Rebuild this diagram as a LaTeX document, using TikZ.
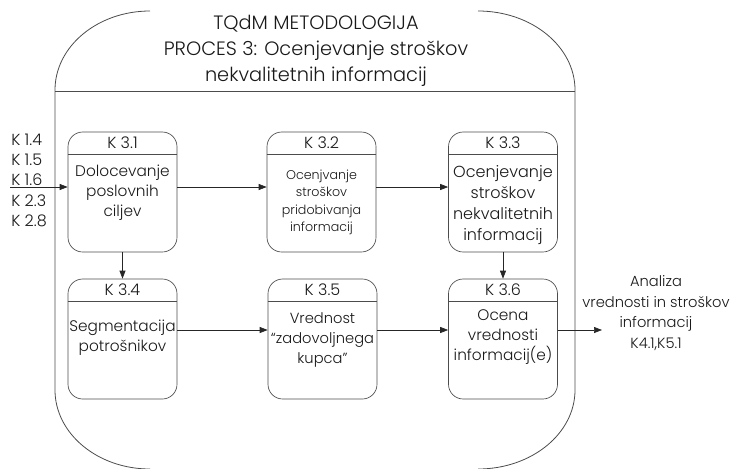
\documentclass[tikz,border=0pt]{standalone}
\usepackage{fontspec}
\setmainfont{Poppins}[UprightFont={* Light}]
\usepackage{xcolor}
\usepackage{tikz}
\usetikzlibrary{positioning,calc,arrows.meta}
\tikzset{
  procbox/.style={draw=black!70, line width=0.5pt, rounded corners=11pt,
    minimum width=81.75pt, minimum height=90pt, inner sep=0pt},
  headtext/.style={text=black!90, inner sep=0pt, font=\fontsize{12}{13}\selectfont},
  bodytext/.style={anchor=north, align=center, inner sep=0pt, text=black!90,
    font=\fontsize{11.5}{15}\selectfont},
  flow/.style={draw=black!85, line width=0.5pt, -{Triangle[length=6pt,width=4.5pt]}},
  outline/.style={draw=black!70, line width=0.6pt}
}

\begin{document}
\begin{tikzpicture}[x=0.75pt,y=-0.75pt]
\useasboundingbox (0,0) rectangle (731,468);
% outer frame
\draw[outline] (150,11) .. controls (97.6,11) and (55,46.4) .. (55,90)
  -- (55,390) .. controls (55,433.6) and (97.6,469) .. (150,469);
\draw[outline] (478,11) .. controls (531.5,11) and (575,46.4) .. (575,90)
  -- (575,390) .. controls (575,433.6) and (531.5,469) .. (478,469);
\draw[outline] (55,91.5) -- (575,91.5);
\node[align=center, text=black!90, font=\fontsize{14.5}{19.5}\selectfont] (title) at (316,50.5)
  {TQdM METODOLOGIJA\\PROCES 3: Ocenjevanje stroškov\\nekvalitetnih informacij};

% boxes
\node[procbox] (k31) at (122.5,192) {};
\node[procbox] (k32) at (321.5,192) {};
\node[procbox] (k33) at (503,192) {};
\node[procbox] (k34) at (122.5,339) {};
\node[procbox] (k35) at (322.5,339) {};
\node[procbox] (k36) at (503,339) {};
\foreach \b in {k31,k32,k33,k34,k35,k36}
  \draw[outline, line width=0.5pt] ($(\b.north west)+(0,23)$) -- ($(\b.north east)+(0,23)$);

\node[headtext] (h31) at ($(k31.north)+(0,11)$) {K 3.1};
\node[headtext] (h32) at ($(k32.north)+(0,11)$) {K 3.2};
\node[headtext] (h33) at ($(k33.north)+(0,11)$) {K 3.3};
\node[headtext] (h34) at ($(k34.north)+(0,11)$) {K 3.4};
\node[headtext] (h35) at ($(k35.north)+(0,11)$) {K 3.5};
\node[headtext] (h36) at ($(k36.north)+(0,11)$) {K 3.6};

\node[bodytext] (t31) at ($(k31.north)+(0,33)$) {Dolocevanje\\poslovnih\\ciljev};
\node[bodytext, font=\fontsize{9.5}{13}\selectfont] (t32) at ($(k32.north)+(0,38)$)
  {Ocenjvanje\\stroškov\\pridobivanja\\informacij};
\node[bodytext, font=\fontsize{12}{15.75}\selectfont] (t33) at ($(k33.north)+(0,34)$)
  {Ocenjevanje\\stroškov\\nekvalitetnih\\informacij};
\node[bodytext] (t34) at ($(k34.north)+(0,41)$) {Segmentacija\\potrošnikov};
\node[bodytext, font=\fontsize{11}{15}\selectfont] (t35) at ($(k35.north)+(0,34)$)
  {Vrednost\\“zadovoljnega\\kupca”};
\node[bodytext] (t36) at ($(k36.north)+(0,31)$) {Ocena\\vrednosti\\informacij(e)};

% inputs and output
\node[anchor=north west, align=left, inner sep=0pt, text=black!90,
  font=\fontsize{12}{15.2}\selectfont] (inputs) at (11,133.5)
  {K 1.4\\K 1.5\\K 1.6\\K 2.3\\K 2.8};
\node[align=center, inner sep=0pt, text=black!90, font=\fontsize{11}{15.4}\selectfont]
  (result) at (656,313) {Analiza\\vrednosti in stroškov\\informacij\\K4.1,K5.1};
\coordinate (src) at (10,187);
\coordinate (dst) at (602,330);

% connectors
\draw[flow] (src) -- (src -| k31.west);
\draw[flow] ([yshift=3.75pt]k31.east) -- ([yshift=3.75pt]k32.west);
\draw[flow] ([yshift=3.75pt]k32.east) -- ([yshift=3.75pt]k33.west);
\draw[flow] (k31.south) -- (k34.north);
\draw[flow] (k33.south) -- (k36.north);
\draw[flow] ([yshift=6.75pt]k34.east) -- ([yshift=6.75pt]k35.west);
\draw[flow] ([yshift=6.75pt]k35.east) -- ([yshift=6.75pt]k36.west);
\draw[flow] ([yshift=6.75pt]k36.east) -- (dst);
\end{tikzpicture}
\end{document}
